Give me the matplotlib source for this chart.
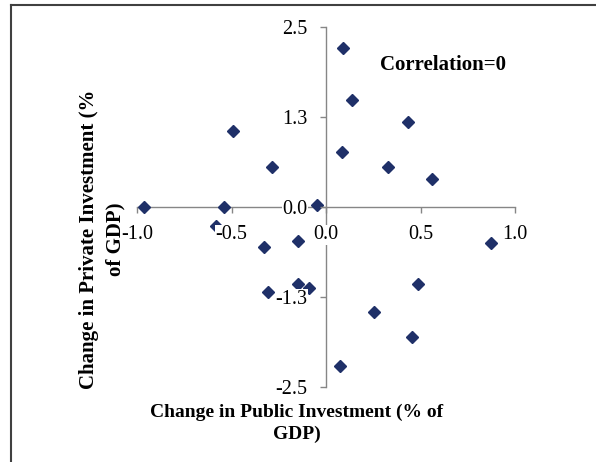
import matplotlib.pyplot as plt
from matplotlib.lines import Line2D

# change in public investment (% of GDP) vs change in private investment (% of GDP)
public_inv = [0.092, 0.136, 0.432, -0.49, 0.083, -0.284, 0.326, 0.559,
              -0.963, -0.538, -0.046, -0.582, -0.326, -0.146, 0.873,
              0.488, -0.307, -0.15, -0.09, 0.254, 0.457, 0.074]
private_inv = [2.21, 1.48, 1.18, 1.05, 0.755, 0.55, 0.556, 0.39,
               0.0, -0.01, 0.03, -0.27, -0.56, -0.48, -0.51,
               -1.07, -1.19, -1.08, -1.125, -1.46, -1.81, -2.21]

x_ticks = [-1.0, -0.5, 0.0, 0.5, 1.0]
x_tick_labels = ['-1.0', '-0.5', '0.0', '0.5', '1.0']
y_ticks = [-2.5, -1.25, 0.0, 1.25, 2.5]
y_tick_labels = ['-2.5', '-1.3', '0.0', '1.3', '2.5']

plt.rcParams['font.family'] = ['Liberation Serif', 'DejaVu Serif']

fig = plt.figure(figsize=(5.96, 4.62), dpi=100)
ax = fig.add_axes([0.2299, 0.163, 0.6342, 0.779])
ax.set_facecolor('none')

ax.plot(public_inv, private_inv, linestyle='none', marker='D', ms=6,
        color='#1f3068', zorder=3, clip_on=False)

ax.set_xlim(-1, 1)
ax.set_ylim(-2.5, 2.5)

# axes crossing at the origin, Excel style
ax.spines['left'].set_position(('data', 0))
ax.spines['bottom'].set_position(('data', 0))
ax.spines['top'].set_visible(False)
ax.spines['right'].set_visible(False)
for s in ['left', 'bottom']:
    ax.spines[s].set_color('#868686')
    ax.spines[s].set_linewidth(1)
    ax.spines[s].set_zorder(2)

ax.set_xticks(x_ticks, x_tick_labels)
ax.set_yticks(y_ticks, y_tick_labels)
ax.tick_params(direction='out', length=4.5, width=1, color='#868686', labelsize=14.5)
ax.tick_params(axis='x', pad=9)
ax.tick_params(axis='y', pad=9)
for lab in ax.get_xticklabels() + ax.get_yticklabels():
    lab.set_bbox(dict(facecolor='white', edgecolor='none', pad=0.5))
ax.xaxis.set_zorder(4)
ax.yaxis.set_zorder(4)

ax.text(0.643, 0.894, 'Correlation=0', transform=ax.transAxes, fontsize=15,
        fontweight='bold', ha='left', va='center')

fig.text(297 / 596, 0.0833, 'Change in Public Investment (% of\nGDP)',
         ha='center', va='center', multialignment='center', linespacing=1.4,
         fontsize=14, fontweight='bold')
fig.text(102.5 / 596, 0.483, 'Change in Private Investment (%\nof GDP)',
         ha='center', va='center', multialignment='center', rotation=90,
         linespacing=1.45, fontsize=15, fontweight='bold')

# outer frame (top and left edges)
fig.add_artist(Line2D([11 / 596, 1.0], [1 - 5 / 462, 1 - 5 / 462],
                      transform=fig.transFigure, color='#404040', lw=1.5))
fig.add_artist(Line2D([11 / 596, 11 / 596], [0.0, 1 - 5 / 462],
                      transform=fig.transFigure, color='#404040', lw=1.5))

fig.savefig('out.png', dpi=100)
